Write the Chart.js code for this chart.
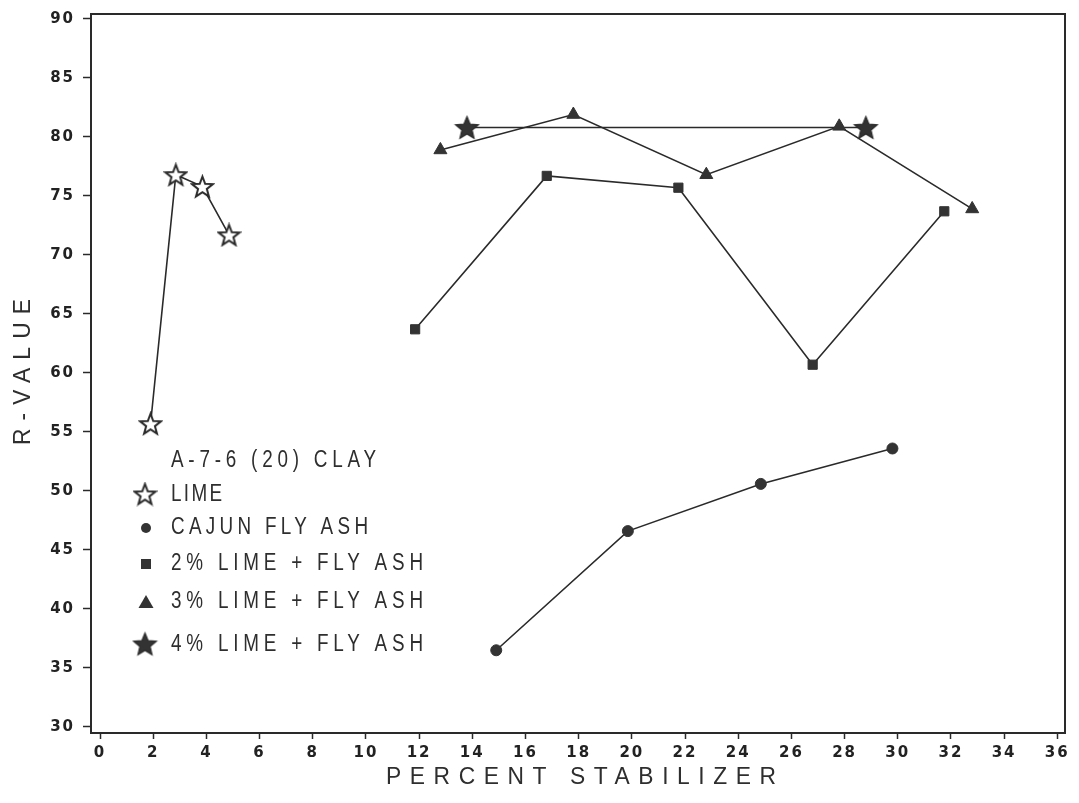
<!DOCTYPE html>
<html>
<head>
<meta charset="utf-8">
<script src="https://cdn.jsdelivr.net/npm/chart.js@4.4.1/dist/chart.umd.min.js"></script>
<style>
  html, body { margin: 0; padding: 0; background: #fff; }
  #wrap { width: 1079px; height: 803px; position: relative; }
</style>
</head>
<body>
<div id="wrap"><canvas id="c" width="1079" height="803"></canvas></div>
<script>
// Axis ticks
const xTicks = [0, 2, 4, 6, 8, 10, 12, 14, 16, 18, 20, 22, 24, 26, 28, 30, 32, 34, 36];
const yTicks = [30, 35, 40, 45, 50, 55, 60, 65, 70, 75, 80, 85, 90];

// Percent stabilizer (x) and R-value (y) per series
const limeX = [1.9, 2.85, 3.85, 4.85];
const limeY = [55.7, 76.8, 75.8, 71.7];

const cajunX = [14.9, 19.85, 24.85, 29.8];
const cajunY = [36.5, 46.6, 50.6, 53.6];

const lime2X = [11.85, 16.8, 21.75, 26.8, 31.75];
const lime2Y = [63.7, 76.7, 75.7, 60.7, 73.7];

const lime3X = [12.8, 17.8, 22.8, 27.8, 32.8];
const lime3Y = [78.9, 81.9, 76.8, 80.9, 73.9];

const lime4X = [13.8, 28.8];
const lime4Y = [80.8, 80.8];

const legendTitle = 'A-7-6 (20) CLAY';
const seriesNames = ['LIME', 'CAJUN FLY ASH', '2% LIME + FLY ASH', '3% LIME + FLY ASH', '4% LIME + FLY ASH'];

const INK = '#2a2a2a';

function pts(xs, ys) { return xs.map((x, i) => ({ x: x, y: ys[i] })); }

// Five-pointed star marker, outlined or filled
function makeStar(size, filled) {
  const c = document.createElement('canvas');
  c.width = size; c.height = size;
  const g = c.getContext('2d');
  const cx = size / 2, cy = size / 2 + 1;
  const R = size / 2 - 1.5, r = R * (filled ? 0.45 : 0.42);
  g.beginPath();
  for (let i = 0; i < 10; i++) {
    const a = -Math.PI / 2 + i * Math.PI / 5;
    const rr = i % 2 === 0 ? R : r;
    const px = cx + rr * Math.cos(a), py = cy + rr * Math.sin(a);
    if (i === 0) g.moveTo(px, py); else g.lineTo(px, py);
  }
  g.closePath();
  g.fillStyle = filled ? '#333' : '#fff';
  g.fill();
  g.lineWidth = filled ? 1.2 : 2;
  g.lineJoin = 'miter';
  g.strokeStyle = INK;
  g.stroke();
  return c;
}
const openStar = makeStar(25, false);
const filledStar = makeStar(27, true);

const datasets = [
  { label: seriesNames[0], data: pts(limeX, limeY), pointStyle: openStar, pointRadius: 12 },
  { label: seriesNames[1], data: pts(cajunX, cajunY), pointStyle: 'circle', pointRadius: 5.5 },
  { label: seriesNames[2], data: pts(lime2X, lime2Y), pointStyle: 'rect', pointRadius: 6.5 },
  { label: seriesNames[3], data: pts(lime3X, lime3Y), pointStyle: 'triangle', pointRadius: 7.5 },
  { label: seriesNames[4], data: pts(lime4X, lime4Y), pointStyle: filledStar, pointRadius: 13 }
].map(d => Object.assign({
  borderColor: INK,
  borderWidth: 1.6,
  backgroundColor: '#333',
  pointBackgroundColor: '#333',
  pointBorderColor: '#333',
  pointBorderWidth: 1,
  pointHoverRadius: d.pointRadius,
  tension: 0,
  fill: false
}, d));

// Draws text condensed horizontally, tracked out to a given width
function fitText(ctx, text, x, y, width, squeeze) {
  ctx.save();
  ctx.letterSpacing = '0px';
  const nat = ctx.measureText(text).width * squeeze;
  const sp = (width - nat) / (text.length - 1) / squeeze;
  ctx.translate(x, y);
  ctx.scale(squeeze, 1);
  ctx.letterSpacing = sp + 'px';
  ctx.fillText(text, 0, 0);
  ctx.restore();
}

// Wider tracking for the tick numerals, reset before the data is drawn
const tickTracking = {
  id: 'tickTracking',
  beforeDraw(chart) { chart.ctx.letterSpacing = '2px'; },
  beforeDatasetsDraw(chart) { chart.ctx.letterSpacing = '0px'; }
};

// Frame, axis titles and the in-plot legend
const decorations = {
  id: 'decorations',
  afterDraw(chart) {
    const ctx = chart.ctx;
    const a = chart.chartArea;
    ctx.save();
    ctx.letterSpacing = '0px';
    ctx.strokeStyle = INK;
    ctx.lineWidth = 2;
    ctx.strokeRect(a.left, a.top, a.right - a.left, a.bottom - a.top);

    ctx.fillStyle = '#2e2e2e';
    ctx.textBaseline = 'middle';
    ctx.textAlign = 'left';

    // x title
    ctx.font = '24px "Liberation Sans"';
    fitText(ctx, 'PERCENT STABILIZER', 386, 777, 390, 0.95);

    // y title
    ctx.save();
    ctx.translate(23, 372);
    ctx.rotate(-Math.PI / 2);
    fitText(ctx, 'R-VALUE', -73, 0, 146, 0.95);
    ctx.restore();

    // legend
    ctx.font = '23px "Liberation Sans"';
    const tx = 171;
    const sq = 0.82;
    fitText(ctx, legendTitle, tx, 461, 205, sq);
    const rowY = [495, 528, 564, 602, 645];
    const rowW = [51, 197, 252, 252, 252];
    seriesNames.forEach((n, i) => fitText(ctx, n, tx, rowY[i], rowW[i], sq));

    // legend markers
    ctx.drawImage(openStar, 145 - 12.5, 494 - 12.5);
    ctx.fillStyle = '#333';
    ctx.beginPath(); ctx.arc(146, 528, 5, 0, Math.PI * 2); ctx.fill();
    ctx.fillRect(141, 559, 10, 10);
    ctx.beginPath(); ctx.moveTo(146, 595); ctx.lineTo(153.5, 608); ctx.lineTo(138.5, 608); ctx.closePath(); ctx.fill();
    ctx.drawImage(filledStar, 145 - 13.5, 645 - 14.5);
    ctx.restore();
  }
};

const tickFont = { family: '"DejaVu Sans"', size: 15, weight: 'bold' };

new Chart(document.getElementById('c'), {
  type: 'line',
  data: { datasets: datasets },
  plugins: [tickTracking, decorations],
  options: {
    responsive: false,
    animation: false,
    layout: { padding: { left: 0, top: 7, right: 10, bottom: 0 } },
    plugins: { legend: { display: false }, tooltip: { enabled: false } },
    scales: {
      x: {
        type: 'linear',
        min: -0.34,
        max: 36.29,
        afterBuildTicks: s => { s.ticks = xTicks.map(v => ({ value: v })); },
        afterFit: s => { s.height = 70; s.paddingLeft = 0; s.paddingRight = 0; },
        grid: { drawOnChartArea: false, drawTicks: true, tickLength: 6, tickColor: INK, tickWidth: 1.5 },
        border: { display: true, color: INK, width: 2 },
        ticks: { color: '#222', font: tickFont, padding: 5, maxRotation: 0, autoSkip: false }
      },
      y: {
        type: 'linear',
        min: 29.49,
        max: 90.42,
        afterBuildTicks: s => { s.ticks = yTicks.map(v => ({ value: v })); },
        afterFit: s => { s.width = 91; s.paddingTop = 0; s.paddingBottom = 0; },
        grid: { drawOnChartArea: false, drawTicks: true, tickLength: 8, tickColor: INK, tickWidth: 1.5 },
        border: { display: true, color: INK, width: 2 },
        ticks: { color: '#222', font: tickFont, padding: 8, autoSkip: false }
      }
    }
  }
});
</script>
</body>
</html>
